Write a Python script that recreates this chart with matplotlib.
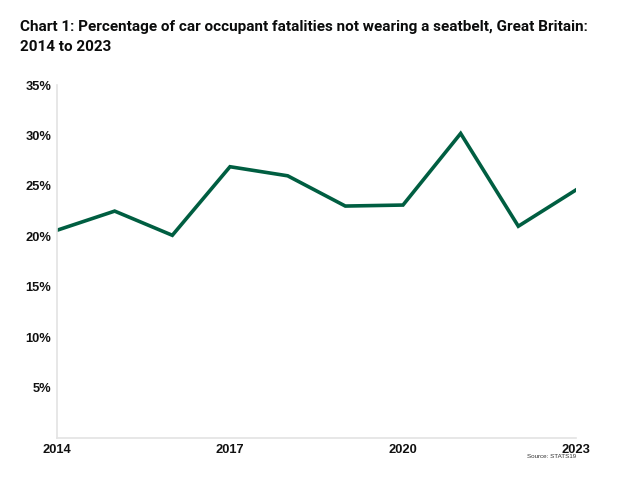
import matplotlib.pyplot as plt
from matplotlib.ticker import FuncFormatter

years = [2014, 2015, 2016, 2017, 2018, 2019, 2020, 2021, 2022, 2023]
pct_unbelted = [20.6, 22.5, 20.1, 26.9, 26.0, 23.0, 23.1, 30.2, 21.0, 24.6]
y_ticks = [5, 10, 15, 20, 25, 30, 35]
x_ticks = [2014, 2017, 2020, 2023]

title = ("Chart 1: Percentage of car occupant fatalities not wearing a seatbelt, Great Britain:\n"
         "2014 to 2023")

plt.rcParams['font.family'] = ['Liberation Sans', 'DejaVu Sans']

fig = plt.figure(figsize=(6.34, 4.86), dpi=100)
ax = fig.add_axes([0.0899, 0.0988, 0.8186, 0.7262])

ax.plot(years, pct_unbelted, color='#005e41', linewidth=2.6, solid_joinstyle='miter')

ax.set_xlim(2014, 2023)
ax.set_ylim(0, 35)
ax.set_yticks(y_ticks)
ax.set_xticks(x_ticks)
ax.yaxis.set_major_formatter(FuncFormatter(lambda v, p: f"{int(v)}%"))
ax.tick_params(length=0, labelsize=9.3, pad=4)
for lbl in ax.get_xticklabels() + ax.get_yticklabels():
    lbl.set_fontweight('bold')
    lbl.set_color('#111111')

for s in ['top', 'right']:
    ax.spines[s].set_visible(False)
for s in ['left', 'bottom']:
    ax.spines[s].set_color('#e3e3e3')
    ax.spines[s].set_linewidth(1.2)

fig.text(0.032, 0.958, title, fontsize=11, fontweight='bold', va='top',
         ha='left', color='#0b0c0c', linespacing=1.5, family=['Roboto', 'DejaVu Sans'])
fig.text(0.908, 0.06, "Source: STATS19", fontsize=4.5, ha='right', va='center', color='#333333')

fig.savefig("out.png", dpi=100)
